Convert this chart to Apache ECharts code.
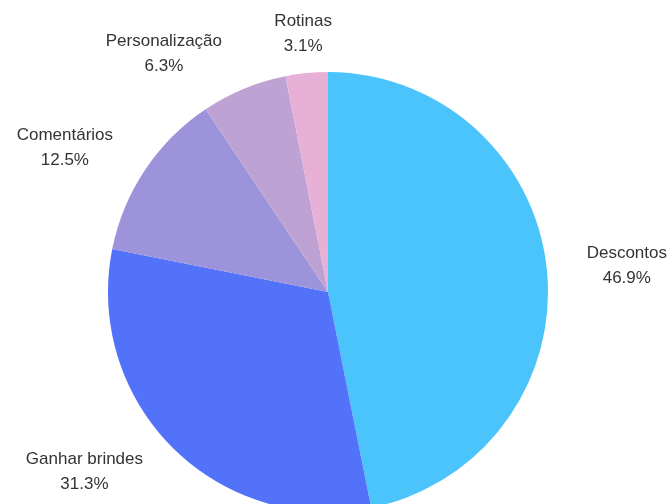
<!DOCTYPE html>
<html>
<head>
<meta charset="utf-8">
<script src="https://cdn.jsdelivr.net/npm/echarts@6/dist/echarts.min.js"></script>
<style>
  html, body { margin: 0; padding: 0; background: #ffffff; }
  #chart { width: 672px; height: 504px; }
</style>
</head>
<body>
<div id="chart"></div>
<script>
// Categories and their share (%), drawn clockwise from 12 o'clock
const categories = ['Descontos', 'Ganhar brindes', 'Comentários', 'Personalização', 'Rotinas'];
const shares = [46.9, 31.3, 12.5, 6.3, 3.1];
const sliceColors = ['#4bc3fb', '#5372fa', '#9d93da', '#bea2d4', '#e9b0d7'];

// Label placement around the pie: angle (degrees clockwise from top) and distance from centre (px)
const labelAngles = [84.9, 233.5, 298.7, 325.4, 354.5];
const labelDistances = [300, 303, 300, 289, 259];

const pieCenter = [328, 292];
const pieRadius = 220;

const chart = echarts.init(document.getElementById('chart'), null, { renderer: 'canvas' });

chart.setOption({
  backgroundColor: '#ffffff',
  animation: false,
  series: [{
    type: 'pie',
    center: pieCenter,
    radius: pieRadius,
    startAngle: 90,
    clockwise: true,
    avoidLabelOverlap: false,
    data: categories.map((name, i) => ({
      name: name,
      value: shares[i],
      itemStyle: { color: sliceColors[i] }
    })),
    itemStyle: { borderWidth: 0 },
    emphasis: { disabled: true },
    label: {
      show: true,
      position: 'outside',
      formatter: p => p.name + '\n' + p.value.toFixed(1) + '%',
      fontFamily: '"Liberation Sans", Arial, sans-serif',
      fontSize: 17,
      lineHeight: 25,
      color: '#333333',
      align: 'center'
    },
    labelLine: { show: false },
    labelLayout: function (params) {
      const i = params.dataIndex;
      const a = labelAngles[i] * Math.PI / 180;
      const d = labelDistances[i];
      return {
        x: pieCenter[0] + d * Math.sin(a),
        y: pieCenter[1] - d * Math.cos(a),
        align: 'center',
        verticalAlign: 'middle'
      };
    }
  }]
});
</script>
</body>
</html>
